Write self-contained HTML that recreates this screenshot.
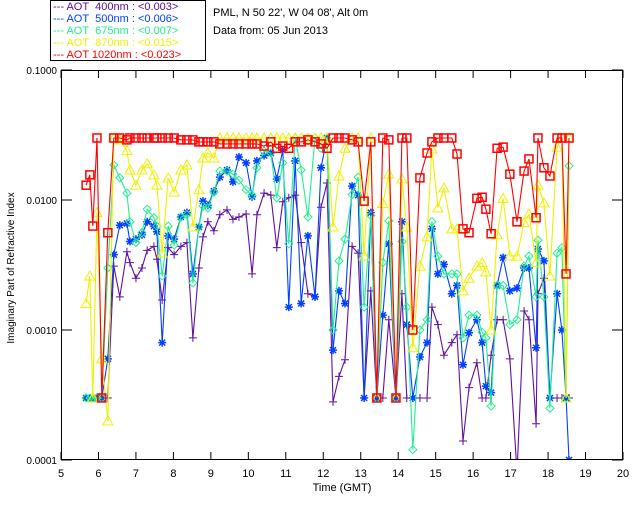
<!DOCTYPE html>
<html><head><meta charset="utf-8"><style>
html,body{margin:0;padding:0;background:#fff;}
svg{display:block;font-family:"Liberation Sans",sans-serif;}
</style></head><body>
<svg id="chart" width="640" height="512" viewBox="0 0 640 512" xmlns="http://www.w3.org/2000/svg">
<defs><clipPath id="clip"><rect x="61" y="70" width="562" height="390"/></clipPath></defs>
<g>
<rect x="50.5" y="0.5" width="155" height="60" fill="#fff" stroke="#000"/>
<text x="53" y="10" font-size="11" fill="#6010a0">--- AOT&#160;&#160;400nm : &lt;0.003&gt;</text>
<text x="53" y="22" font-size="11" fill="#0040ff">--- AOT&#160;&#160;500nm : &lt;0.006&gt;</text>
<text x="53" y="34" font-size="11" fill="#20f090">--- AOT&#160;&#160;675nm : &lt;0.007&gt;</text>
<text x="53" y="46" font-size="11" fill="#f0f000">--- AOT&#160;&#160;870nm : &lt;0.015&gt;</text>
<text x="53" y="58" font-size="11" fill="#ff0000">--- AOT 1020nm : &lt;0.023&gt;</text>
</g>
<text x="213" y="16" font-size="11">PML, N 50 22', W 04 08', Alt 0m</text>
<text x="213" y="34" font-size="11">Data from: 05 Jun 2013</text>
<text transform="translate(14,268) rotate(-90)" text-anchor="middle" font-size="10">Imaginary Part of Refractive Index</text>
<text x="342" y="491" text-anchor="middle" font-size="11">Time (GMT)</text>
<g id="axes"></g>
<g id="series" clip-path="url(#clip)"></g>
<rect x="61.5" y="70.5" width="561" height="389" fill="none" stroke="#000"/>
</svg>
<script>
const times=[5.67,5.77,5.85,5.96,6.09,6.25,6.41,6.57,6.76,6.84,7.00,7.16,7.30,7.48,7.56,7.70,7.86,8.02,8.20,8.36,8.52,8.68,8.79,8.92,9.08,9.24,9.43,9.59,9.75,9.94,10.10,10.23,10.42,10.60,10.76,10.92,11.08,11.25,11.41,11.59,11.78,11.94,12.10,12.26,12.42,12.58,12.77,12.93,13.09,13.27,13.43,13.59,13.75,13.94,14.10,14.23,14.39,14.58,14.77,14.90,15.06,15.22,15.43,15.57,15.73,15.89,16.10,16.24,16.34,16.48,16.64,16.80,16.98,17.17,17.36,17.49,17.68,17.73,17.89,18.05,18.24,18.37,18.48,18.56];
const aot400=[0.0003,0.0003,0.0003,0.0003,0.0003,0.0003,0.0031,0.0018,0.004,0.0033,0.0025,0.003,0.0041,0.0044,0.0035,0.0017,0.0043,0.0038,0.0044,0.0047,0.00087,0.003,0.0052,0.0068,0.0058,0.0077,0.0084,0.0071,0.0074,0.0078,0.0027,0.0077,0.0113,0.0109,0.0043,0.0097,0.0104,0.0109,0.0047,0.0019,0.0018,0.0088,0.0135,0.00028,0.00044,0.00059,0.0044,0.0039,0.0003,0.002,0.0003,0.0003,0.0012,0.0003,0.0019,0.0003,0.0003,0.0003,0.0003,0.0015,0.0011,0.00064,0.0008,0.00092,0.00014,0.00036,0.00056,0.0003,0.0003,0.00064,0.0012,0.0012,0.0006,0.00008,0.0014,0.0012,0.00019,0.0019,0.0025,0.0003,0.0003,0.0003,0.0003,0.0003];
const aot500=[0.0003,0.0003,0.0003,0.0003,0.0003,0.0006,0.0038,0.0064,0.0066,0.0048,0.005,0.0054,0.0068,0.0063,0.0057,0.0008,0.0053,0.005,0.0074,0.008,0.0027,0.0062,0.0098,0.0091,0.0117,0.015,0.017,0.0138,0.0214,0.0193,0.0106,0.02,0.022,0.023,0.0145,0.0242,0.0015,0.02,0.0016,0.0053,0.0018,0.0177,0.03,0.0007,0.002,0.0016,0.0128,0.0109,0.0003,0.008,0.0003,0.0013,0.0046,0.0003,0.0068,0.0011,0.0003,0.00062,0.0008,0.006,0.0027,0.0032,0.0019,0.0022,0.00054,0.00095,0.0012,0.0008,0.00037,0.00033,0.0022,0.0036,0.002,0.0021,0.003,0.003,0.00073,0.0042,0.0034,0.0003,0.0019,0.001,0.0003,0.0001];
const aot675=[0.0003,0.0003,0.0003,0.0003,0.0003,0.003,0.0186,0.0148,0.0113,0.0068,0.0047,0.0056,0.0085,0.0073,0.0063,0.0026,0.0063,0.0045,0.0074,0.0077,0.0023,0.0062,0.009,0.0087,0.0115,0.0167,0.0167,0.0158,0.0142,0.012,0.0109,0.0177,0.0238,0.023,0.0104,0.0193,0.0046,0.03,0.017,0.0074,0.03,0.025,0.03,0.001,0.0034,0.005,0.011,0.015,0.0015,0.0076,0.0003,0.0033,0.0069,0.0003,0.0048,0.0015,0.00012,0.001,0.0012,0.0068,0.0037,0.0027,0.0027,0.0027,0.00087,0.0013,0.0013,0.00096,0.00087,0.00026,0.0022,0.0022,0.0011,0.0012,0.0031,0.0037,0.0018,0.0049,0.0018,0.00025,0.0039,0.0043,0.0003,0.0183];
const aot870=[0.0016,0.0026,0.0003,0.008,0.0006,0.0002,0.03,0.029,0.024,0.017,0.013,0.017,0.019,0.0156,0.013,0.0039,0.0148,0.0115,0.017,0.0186,0.0062,0.012,0.021,0.023,0.021,0.03,0.03,0.03,0.03,0.03,0.03,0.03,0.03,0.03,0.03,0.03,0.03,0.03,0.03,0.03,0.03,0.03,0.03,0.0062,0.0153,0.025,0.03,0.03,0.0037,0.03,0.0003,0.0094,0.0158,0.0003,0.0145,0.0062,0.00073,0.0031,0.0052,0.0247,0.0087,0.0124,0.006,0.006,0.002,0.0025,0.0031,0.0033,0.0028,0.001,0.0054,0.0103,0.0037,0.0037,0.0067,0.0078,0.0033,0.013,0.0095,0.0026,0.0255,0.03,0.0003,0.03];
const aot1020=[0.013,0.0156,0.0063,0.03,0.0003,0.0056,0.03,0.03,0.029,0.03,0.03,0.03,0.03,0.03,0.03,0.03,0.03,0.03,0.029,0.029,0.029,0.028,0.028,0.028,0.028,0.027,0.027,0.027,0.027,0.027,0.027,0.027,0.026,0.028,0.025,0.026,0.025,0.028,0.028,0.029,0.028,0.027,0.025,0.03,0.03,0.03,0.029,0.028,0.0098,0.028,0.0003,0.03,0.029,0.0003,0.03,0.03,0.001,0.0148,0.023,0.028,0.03,0.03,0.03,0.0226,0.006,0.0056,0.0103,0.0105,0.0085,0.0055,0.025,0.0255,0.0158,0.0068,0.0167,0.0207,0.0073,0.03,0.0177,0.0153,0.03,0.03,0.0027,0.03];
const xTicks=[5,6,7,8,9,10,11,12,13,14,15,16,17,18,19,20];
const yTicks=[0.1,0.01,0.001,0.0001];
const yTickLabels=["0.1000","0.0100","0.0010","0.0001"];

const NS="http://www.w3.org/2000/svg";
const X0=61,X1=623,Y0=460,Y1=70;
function xs(t){return X0+(t-5)/(20-5)*(X1-X0);}
function ys(v){return Y0-(Math.log10(v)+4)/3*(Y0-Y1);}
function mk(tag,attrs,parent){const e=document.createElementNS(NS,tag);for(const k in attrs)e.setAttribute(k,attrs[k]);parent.appendChild(e);return e;}
const axes=document.getElementById('axes');
xTicks.forEach(t=>{
  const x=xs(t);
  const a=mk('line',{x1:x,x2:x,y1:460,y2:452,stroke:'#000'},axes);
  
  
  const b=mk('line',{x1:x,x2:x,y1:70,y2:78,stroke:'#000'},axes);
  
  
  const l=mk('text',{x:x,y:477,'text-anchor':'middle','font-size':11},axes);
  l.textContent=String(t);
  
  
});
yTicks.forEach((v,i)=>{
  const y=ys(v);
  const a=mk('line',{x1:61,x2:72,y1:y,y2:y,stroke:'#000'},axes);
  
  
  const b=mk('line',{x1:612,x2:623,y1:y,y2:y,stroke:'#000'},axes);
  
  
  const l=mk('text',{x:57,y:y+4,'text-anchor':'end','font-size':10},axes);
  l.textContent=yTickLabels[i];
  
  
});
const sg=document.getElementById('series');
function marker(g,type,x,y,c){
  let e;
  if(type==='plus'){e=mk('path',{d:`M${x-4} ${y}H${x+4}M${x} ${y-4}V${y+4}`,stroke:c,fill:'none'},g);}
  else if(type==='star'){e=mk('path',{d:`M${x-4} ${y}H${x+4}M${x} ${y-4}V${y+4}M${x-3} ${y-3}L${x+3} ${y+3}M${x-3} ${y+3}L${x+3} ${y-3}`,stroke:c,fill:'none','stroke-width':1.5},g);}
  else if(type==='diamond'){e=mk('path',{d:`M${x} ${y-4}L${x+4} ${y}L${x} ${y+4}L${x-4} ${y}Z`,stroke:c,fill:'none'},g);}
  else if(type==='tri'){e=mk('path',{d:`M${x} ${y-5}L${x+5} ${y+4}L${x-5} ${y+4}Z`,stroke:c,fill:'none'},g);}
  else {e=mk('rect',{x:x-4,y:y-4,width:8,height:8,stroke:c,fill:'none','stroke-width':1.5},g);}
  return e;
}
const seriesList=[
  {name:'aot-400',vals:aot400,c:'#6010a0',m:'plus'},
  {name:'aot-500',vals:aot500,c:'#0040ff',m:'star'},
  {name:'aot-675',vals:aot675,c:'#20f090',m:'diamond'},
  {name:'aot-870',vals:aot870,c:'#f0f000',m:'tri'},
  {name:'aot-1020',vals:aot1020,c:'#ff0000',m:'square'}
];
seriesList.forEach(s=>{
  const g=mk('g',{},sg);
  
  
  const pts=times.map((t,i)=>xs(t).toFixed(1)+','+ys(s.vals[i]).toFixed(1)).join(' ');
  const line=mk('polyline',{points:pts,fill:'none',stroke:s.c,'stroke-width':1.1},g);
  
  
  times.forEach((t,i)=>{
    const m=marker(g,s.m,xs(t),ys(s.vals[i]),s.c);
    
    
  });
});
</script>
</body></html>
